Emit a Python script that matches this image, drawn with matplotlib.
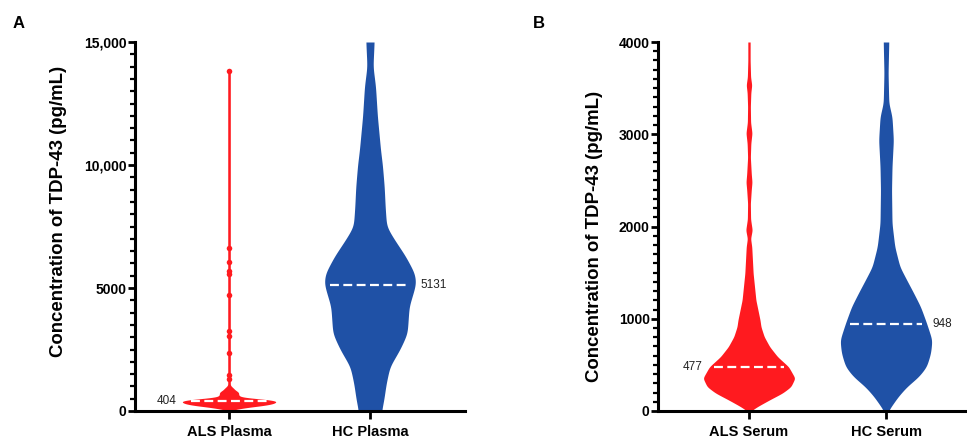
import numpy as np
import matplotlib
matplotlib.use("Agg")
import matplotlib.pyplot as plt
from matplotlib.ticker import MultipleLocator, FixedLocator, FixedFormatter

plt.rcParams['font.family'] = ['Liberation Sans', 'DejaVu Sans']

# ---------------- data ----------------
plasma_categories = ["ALS Plasma", "HC Plasma"]
serum_categories = ["ALS Serum", "HC Serum"]
plasma_medians = [404, 5131]
serum_medians = [477, 948]

# violin outlines: concentration level and relative density (0..1)
als_plasma_levels = [0, 60, 150, 230, 300, 380, 430, 480, 530, 580, 650, 750, 800, 860, 922, 988, 1050, 1100, 13833]
als_plasma_density = [0.03, 0.12, 0.42, 0.78, 0.97, 1.04, 0.98, 0.76, 0.45, 0.25, 0.21, 0.21, 0.18, 0.13, 0.10, 0.06, 0.03, 0.028, 0.028]
als_plasma_points = [13833, 6614, 6072, 5700, 5560, 4715, 3264, 3049, 2345, 1463, 1300]

hc_plasma_levels = [0, 450, 1100, 1800, 2500, 3150, 3700, 4250, 4800, 5200, 5600, 6300, 7000, 7500, 8300, 9100, 10000, 10600, 12000, 13200, 14000, 15000]
hc_plasma_density = [0.25, 0.30, 0.35, 0.43, 0.65, 0.81, 0.83, 0.85, 0.94, 1.00, 0.97, 0.77, 0.52, 0.36, 0.33, 0.31, 0.27, 0.23, 0.16, 0.12, 0.065, 0.09]

als_serum_levels = [0, 47, 119, 195, 263, 357, 480, 589, 697, 806, 914, 986, 1131, 1203, 1494, 1781, 1870, 1962, 2080, 2250, 2400, 2482, 2570, 2750, 2900, 3013, 3130, 3300, 3450, 3534, 3620, 3800, 4000]
als_serum_density = [0.04, 0.18, 0.44, 0.73, 0.91, 1.00, 0.86, 0.62, 0.45, 0.33, 0.26, 0.24, 0.18, 0.15, 0.09, 0.06, 0.035, 0.07, 0.035, 0.03, 0.05, 0.065, 0.05, 0.03, 0.04, 0.065, 0.035, 0.03, 0.04, 0.06, 0.035, 0.025, 0.025]

hc_serum_levels = [0, 47, 155, 263, 372, 480, 628, 770, 954, 1131, 1279, 1420, 1564, 1781, 2034, 2396, 2648, 2938, 3190, 3339, 3664, 4000]
hc_serum_density = [0.04, 0.11, 0.26, 0.45, 0.71, 0.88, 0.97, 1.00, 0.88, 0.75, 0.60, 0.45, 0.30, 0.19, 0.13, 0.12, 0.13, 0.16, 0.13, 0.06, 0.045, 0.06]

plasma_ticks = [0, 5000, 10000, 15000]
plasma_ticklabels = ["0", "5000", "10,000", "15,000"]
serum_ticks = [0, 1000, 2000, 3000, 4000]
serum_ticklabels = ["0", "1000", "2000", "3000", "4000"]

# ---------------- style ----------------
RED = "#FF1A1F"
BLUE = "#1F51A6"
W, H = 967, 437

fig = plt.figure(figsize=(W / 100, H / 100), dpi=100)
axA = fig.add_axes([135 / W, 26 / H, 330 / W, 369 / H])
axB = fig.add_axes([658 / W, 26 / H, 309 / W, 369 / H])


def style_axes(ax, ymax, ticks, labels, minor, cats, xlim, label_xy):
    ax.set_ylim(0, ymax)
    ax.set_xlim(*xlim)
    for s in ("top", "right"):
        ax.spines[s].set_visible(False)
    for s in ("left", "bottom"):
        ax.spines[s].set_linewidth(2.2)
    ax.yaxis.set_major_locator(FixedLocator(ticks))
    ax.yaxis.set_major_formatter(FixedFormatter(labels))
    ax.yaxis.set_minor_locator(MultipleLocator(minor))
    ax.set_xticks(range(len(cats)))
    ax.set_xticklabels(cats, fontsize=10.5, fontweight="bold")
    ax.tick_params(axis="y", which="major", length=5, width=2, labelsize=10, pad=1)
    ax.tick_params(axis="y", which="minor", length=3.5, width=1.6)
    ax.tick_params(axis="x", which="major", length=6, width=2, pad=4)
    for t in ax.get_yticklabels():
        t.set_fontweight("bold")
    ax.set_ylabel("Concentration of TDP-43 (pg/mL)", fontsize=13.4, fontweight="bold")
    ax.yaxis.set_label_coords(*label_xy)


def smooth_profile(levels, density, ymax, sigma_frac):
    top = min(max(levels), ymax)
    y = np.linspace(0, top, 2000)
    w = np.interp(y, levels, density)
    sig = max(sigma_frac * ymax / (y[1] - y[0]), 0.5)
    k = np.arange(-int(4 * sig) - 1, int(4 * sig) + 2)
    kern = np.exp(-0.5 * (k / sig) ** 2)
    kern /= kern.sum()
    pad = len(k) // 2
    wp = np.concatenate([np.full(pad, w[0]), w, np.full(pad, w[-1])])
    ws = np.convolve(wp, kern, mode="same")[pad:-pad]
    return y, ws


def draw_violin(ax, pos, levels, density, color, halfw, ymax, sigma_frac):
    y, w = smooth_profile(levels, density, ymax, sigma_frac)
    w = w * halfw
    ax.fill_betweenx(y, pos - w, pos + w, color=color, lw=0, zorder=2)
    return lambda v: float(np.interp(v, y, w))


def draw_median(ax, pos, med, wfun, side, frac=0.88):
    hw = wfun(med)
    ax.plot([pos - hw * frac, pos + hw * frac], [med, med], color="white", lw=1.6,
            ls=(0, (4, 2)), zorder=3, dash_capstyle="butt")
    if side == "left":
        ax.annotate(str(med), (pos - hw, med), xytext=(-5, 0), textcoords="offset points",
                    ha="right", va="center", fontsize=8.5, color="#222222")
    else:
        ax.annotate(str(med), (pos + hw, med), xytext=(4, 0), textcoords="offset points",
                    ha="left", va="center", fontsize=8.5, color="#222222")


# Panel A
style_axes(axA, 15000, plasma_ticks, plasma_ticklabels, 500, plasma_categories,
           (-0.667, 1.674), (-0.206, 0.540))
hwA = 46 / 141
fA0 = draw_violin(axA, 0, als_plasma_levels, als_plasma_density, RED, hwA, 15000, 0.002)
fA1 = draw_violin(axA, 1, hc_plasma_levels, hc_plasma_density, BLUE, hwA, 15000, 0.012)
axA.scatter(np.zeros(len(als_plasma_points)), als_plasma_points, s=16, color=RED, lw=0, zorder=2)
draw_median(axA, 0, plasma_medians[0], fA0, "left", frac=0.84)
draw_median(axA, 1, plasma_medians[1], fA1, "right")

# Panel B
style_axes(axB, 4000, serum_ticks, serum_ticklabels, 100, serum_categories,
           (-0.664, 1.591), (-0.178, 0.473))
hwB = 46 / 137
fB0 = draw_violin(axB, 0, als_serum_levels, als_serum_density, RED, hwB, 4000, 0.004)
fB1 = draw_violin(axB, 1, hc_serum_levels, hc_serum_density, BLUE, hwB, 4000, 0.009)
draw_median(axB, 0, serum_medians[0], fB0, "left")
draw_median(axB, 1, serum_medians[1], fB1, "right")

fig.text(19 / W, 1 - 23 / H, "A", fontsize=12, fontweight="bold", ha="center", va="center")
fig.text(539 / W, 1 - 23 / H, "B", fontsize=12, fontweight="bold", ha="center", va="center")

fig.savefig("out.png", dpi=100)
